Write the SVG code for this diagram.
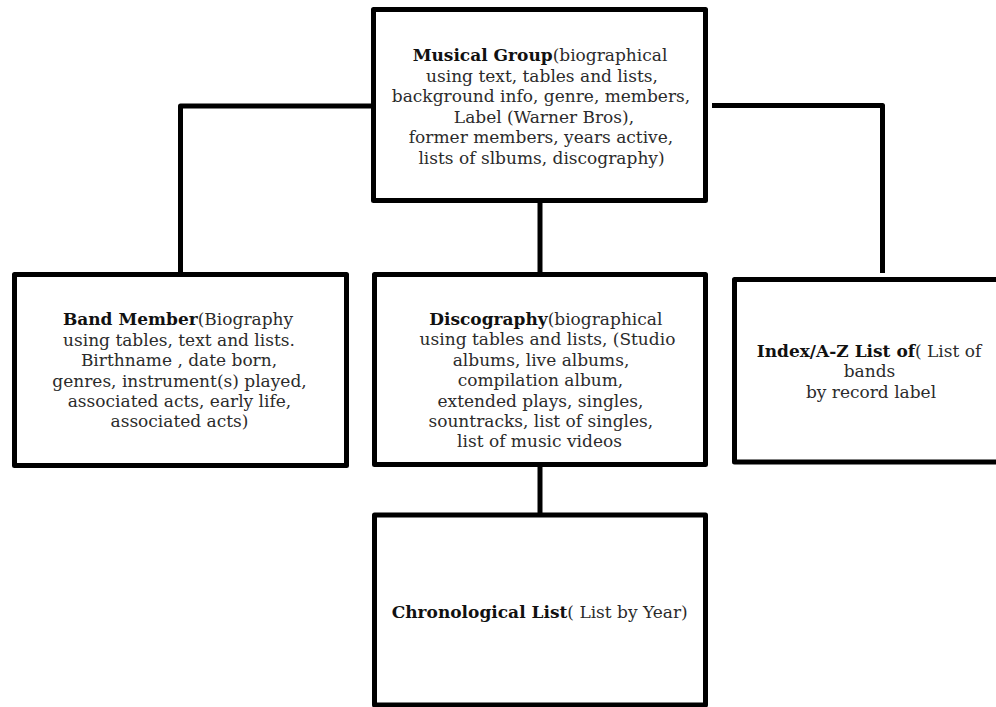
<svg xmlns="http://www.w3.org/2000/svg" width="996" height="707" viewBox="0 0 996 707">
  <style>
    .box { fill: #ffffff; stroke: #000000; stroke-width: 5; stroke-linejoin: round; }
    .link { fill: none; stroke: #000000; stroke-width: 5; stroke-linejoin: round; }
    text { font-family: "DejaVu Serif", "Liberation Serif", serif; font-size: 17px; fill: #2b2b2b; text-anchor: middle; }
    .b { font-weight: bold; fill: #111111; }
  </style>
  <rect width="996" height="707" fill="#ffffff"/>

  <!-- connectors -->
  <g id="connectors">
    <path class="link" d="M371,106 H180.5 V272"/>
    <path class="link" d="M712,105.5 H882.5 V273"/>
    <path class="link" d="M540,203 V272"/>
    <path class="link" d="M540,467 V513"/>
  </g>

  <!-- top: musical group -->
  <g id="musical-group">
    <rect class="box" x="373.5" y="9.5" width="332" height="191"/>
    <text x="540" y="60.7"><tspan class="b">Musical Group</tspan>(biographical</text>
    <text x="542" y="81.5">using text, tables and lists,</text>
    <text x="541" y="102.2">background info, genre, members,</text>
    <text x="544" y="122.8">Label (Warner Bros),</text>
    <text x="541" y="143.4">former members, years active,</text>
    <text x="541.5" y="164">lists of slbums, discography)</text>
  </g>

  <!-- band member -->
  <g id="band-member">
    <rect class="box" x="14.5" y="274.5" width="332" height="191"/>
    <text x="178" y="325"><tspan class="b">Band Member</tspan>(Biography</text>
    <text x="179" y="345.5">using tables, text and lists.</text>
    <text x="179" y="366">Birthname , date born,</text>
    <text x="179.5" y="386.5">genres, instrument(s) played,</text>
    <text x="179.5" y="406.8">associated acts, early life,</text>
    <text x="179.5" y="427">associated acts)</text>
  </g>

  <!-- discography -->
  <g id="discography">
    <rect class="box" x="374.5" y="274.5" width="331" height="190"/>
    <text x="545.8" y="325"><tspan class="b">Discography</tspan>(biographical</text>
    <text x="547.5" y="345.3">using tables and lists, (Studio</text>
    <text x="541" y="365.7">albums, live albums,</text>
    <text x="540.5" y="386.1">compilation album,</text>
    <text x="540.5" y="406.5">extended plays, singles,</text>
    <text x="540.8" y="426.9">sountracks, list of singles,</text>
    <text x="539.5" y="447.3">list of music videos</text>
  </g>

  <!-- index / a-z list -->
  <g id="index-list">
    <rect class="box" x="734.5" y="279.5" width="300" height="182.5"/>
    <text x="869" y="356.7"><tspan class="b">Index/A-Z List of</tspan>( List of</text>
    <text x="869.5" y="377.2">bands</text>
    <text x="871" y="397.5">by record label</text>
  </g>

  <!-- chronological list -->
  <g id="chronological-list">
    <rect class="box" x="374.5" y="515" width="331" height="190"/>
    <text x="539.7" y="618"><tspan class="b">Chronological List</tspan>( List by Year)</text>
  </g>
</svg>
